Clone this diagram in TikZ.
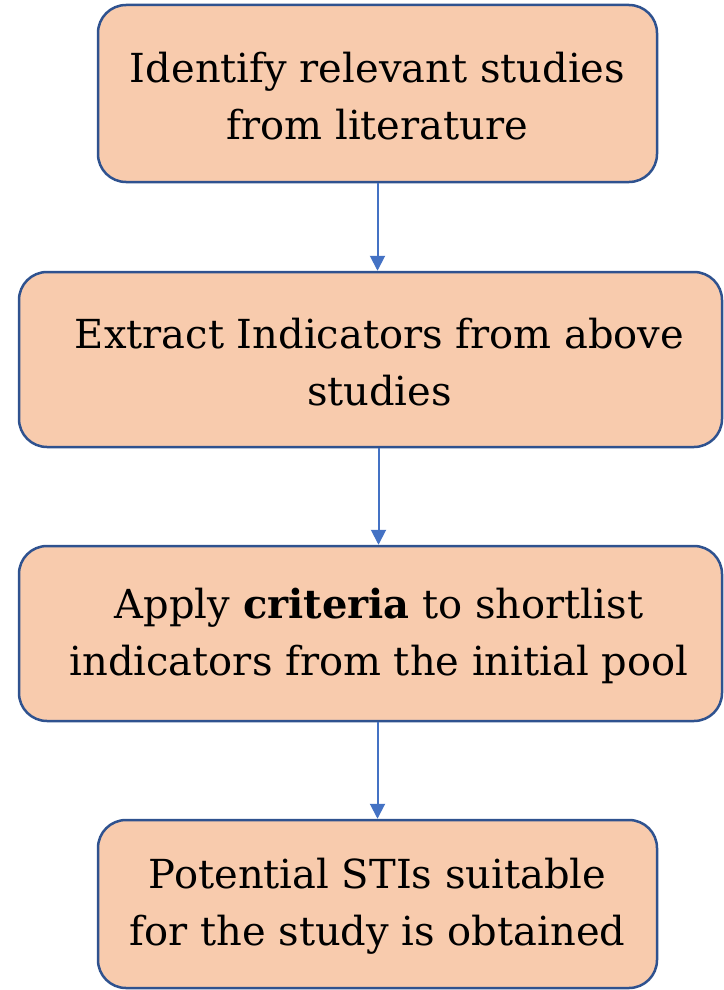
\documentclass[tikz,border=0pt]{standalone}
\usepackage{fontspec}
\setmainfont{DejaVu Serif}
\usetikzlibrary{arrows.meta}
\definecolor{boxfill}{HTML}{F8CBAD}
\definecolor{boxedge}{HTML}{2F528F}
\definecolor{arrowc}{HTML}{4472C4}
\begin{document}
\begin{tikzpicture}[x=1pt,y=-1pt,
  stepbox/.style={draw=boxedge, fill=boxfill, line width=2.5pt, rounded corners=28pt,
    align=center, inner sep=0pt},
  steptext/.style={align=center, inner sep=0pt, font=\fontsize{40}{57}\selectfont},
  flow/.style={draw=arrowc, line width=2pt, -{Triangle[width=15pt,length=15pt]}}]
\useasboundingbox (0,0) rectangle (723,990);
\node[stepbox, minimum width=559pt, minimum height=177pt] (b1) at (377.5,93.5) {};
\node[stepbox, minimum width=703pt, minimum height=175pt] (b2) at (370.5,359.5) {};
\node[stepbox, minimum width=703pt, minimum height=175pt] (b3) at (370.5,633.5) {};
\node[stepbox, minimum width=559pt, minimum height=168pt] (b4) at (377.5,904) {};
\node[steptext] (t1) at (377.5,96) {Identify relevant studies\\from literature};
\node[steptext] (t2) at (379.5,362) {Extract Indicators from above\\studies};
\node[steptext] (t3) at (379,636) {Apply \textbf{criteria} to shortlist\\indicators from the initial pool};
\node[steptext] (t4) at (377.5,906) {Potential STIs suitable\\for the study is obtained};
\draw[flow] (b1.south) -- (b1.south |- b2.north);
\draw[flow] ([xshift=1pt]b1.south |- b2.south) -- ([xshift=1pt]b1.south |- b3.north);
\draw[flow] (b1.south |- b3.south) -- (b1.south |- b4.north);
\end{tikzpicture}
\end{document}
